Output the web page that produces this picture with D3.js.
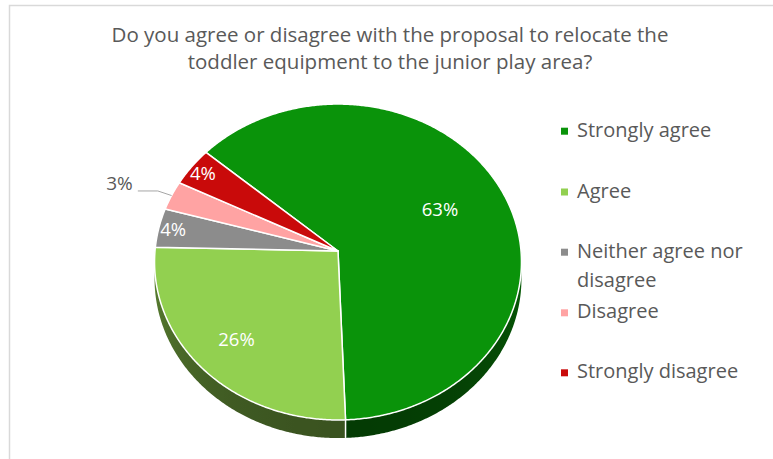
<!DOCTYPE html>
<html>
<head>
<meta charset="utf-8">
<script src="https://cdn.jsdelivr.net/npm/d3@7"></script>
<style>
  html, body { margin: 0; background: #fff; }
  svg { display: block; }
</style>
</head>
<body>
<svg id="chart" width="773" height="459"></svg>
<script>
// Survey answers and their shares (percent)
const categories = ["Strongly agree", "Agree", "Neither agree nor disagree", "Disagree", "Strongly disagree"];
const shares = [63, 26, 4, 3, 4];
const legendLines = [["Strongly agree"], ["Agree"], ["Neither agree nor", "disagree"], ["Disagree"], ["Strongly disagree"]];
const titleLines = ["Do you agree or disagree with the proposal to relocate the", "toddler equipment to the junior play area?"];
const sliceColors = ["#0a930a", "#92d050", "#8c8c8c", "#ffa3a3", "#c90a0a"];
const outsideLabelled = ["Disagree"];

const svg = d3.select("#chart");
const font = "'Open Sans', 'Noto Sans', sans-serif";
const textGrey = "#595959";
const color = d3.scaleOrdinal(categories, sliceColors);
const defs = svg.append("defs");

// chart frame
svg.append("rect")
  .attr("x", 9.5).attr("y", 5.5).attr("width", 800).attr("height", 480)
  .attr("fill", "none").attr("stroke", "#d9d9d9").attr("stroke-width", 1.5);

// title
svg.append("text")
  .attr("text-anchor", "middle")
  .attr("font-family", font).attr("font-size", 20.5).attr("fill", textGrey)
  .selectAll("tspan").data(titleLines).join("tspan")
  .attr("x", 390).attr("y", (d, i) => 41.5 + i * 27)
  .text(d => d);

// tilted pie projected with a little perspective
const cx = 338, cy = 251, R = 183;
const sinT = 0.859, cosT = 0.512, camD = 1342, depth = 16.8;
function project(theta, f) {
  const u = f * Math.sin(theta), v = f * Math.cos(theta);
  const k = camD / (camD + v * R * cosT);
  return [cx + u * R * k, cy - v * R * sinT * k, k];
}
function dropped(theta) {
  const p = project(theta, 1);
  return [p[0], p[1] + depth * p[2]];
}

const start = -49 * Math.PI / 180;
const pie = d3.pie().sort(null).value(d => d.value)
  .startAngle(start).endAngle(start + 2 * Math.PI);
const arcs = pie(categories.map((c, i) => ({ name: c, value: shares[i] })));

const step = Math.PI / 360;
function samples(a0, a1) {
  const n = Math.max(2, Math.ceil((a1 - a0) / step));
  return d3.range(n + 1).map(i => a0 + (a1 - a0) * i / n);
}
const line = d3.line();

// side wall, one path per slice, shaded darker toward the front
const visLo = Math.PI / 2 - 0.1, visHi = 3 * Math.PI / 2 + 0.1;
const walls = svg.append("g");
arcs.forEach((a, i) => {
  const lo = Math.max(a.startAngle, visLo), hi = Math.min(a.endAngle, visHi);
  if (hi <= lo) return;
  const ts = samples(lo, hi);
  const xs = ts.map(t => project(t, 1)[0]);
  const x0 = d3.min(xs), x1 = d3.max(xs);
  const grad = defs.append("linearGradient")
    .attr("id", "wall" + i).attr("gradientUnits", "userSpaceOnUse")
    .attr("x1", x0).attr("x2", x1 === x0 ? x0 + 1 : x1).attr("y1", 0).attr("y2", 0);
  const stops = ts.filter((t, j) => j % 6 === 0 || j === ts.length - 1)
    .map(t => {
      const front = Math.max(0, -Math.cos(t));
      return {
        off: (project(t, 1)[0] - x0) / Math.max(1, x1 - x0),
        col: d3.interpolateRgb(color(a.data.name), "#000")(0.37 + 0.23 * front)
      };
    })
    .sort((p, q) => p.off - q.off);
  grad.selectAll("stop").data(stops).join("stop")
    .attr("offset", d => Math.min(1, Math.max(0, d.off)))
    .attr("stop-color", d => d.col);
  const top = ts.map(t => project(t, 1).slice(0, 2));
  const bottom = ts.slice().reverse().map(dropped);
  walls.append("path")
    .attr("d", line([...top, ...bottom]) + "Z")
    .attr("fill", `url(#wall${i})`);
});
// slice seams on the wall
arcs.forEach(a => {
  const t = a.startAngle;
  if (t > Math.PI / 2 && t < 3 * Math.PI / 2) {
    const p = project(t, 1);
    svg.append("path").attr("d", line([[p[0], p[1]], dropped(t)]))
      .attr("stroke", "#fff").attr("stroke-width", 1.5).attr("fill", "none");
  }
});

// top faces
svg.append("g").selectAll("path").data(arcs).join("path")
  .attr("d", a => {
    const pts = samples(a.startAngle, a.endAngle).map(t => project(t, 1).slice(0, 2));
    return line([[cx, cy], ...pts]) + "Z";
  })
  .attr("fill", a => color(a.data.name))
  .attr("stroke", "#fff").attr("stroke-width", 1.5).attr("stroke-linejoin", "round");

// data labels
const mid = a => (a.startAngle + a.endAngle) / 2;
const labelFrac = a => a.data.value >= 50 ? 0.63 : a.data.value >= 10 ? 0.76 : 0.92;
svg.append("g").selectAll("text")
  .data(arcs.filter(a => !outsideLabelled.includes(a.data.name))).join("text")
  .attr("x", a => project(mid(a), labelFrac(a))[0])
  .attr("y", a => project(mid(a), labelFrac(a))[1])
  .attr("dy", "0.36em").attr("text-anchor", "middle")
  .attr("font-family", font).attr("font-size", 18.5).attr("fill", "#fff")
  .text(a => a.data.value + "%");

// outside label with a leader line
arcs.filter(a => outsideLabelled.includes(a.data.name)).forEach(a => {
  const m = mid(a);
  const p = project(m, 1), e = project(m, 1.085);
  const ex = e[0], ey = e[1];
  svg.append("path")
    .attr("d", line([[p[0], p[1]], [ex, ey], [ex - 20, ey]]))
    .attr("fill", "none").attr("stroke", "#a6a6a6").attr("stroke-width", 1);
  svg.append("text")
    .attr("x", ex - 25).attr("y", ey - 0.5)
    .attr("text-anchor", "end")
    .attr("font-family", font).attr("font-size", 19).attr("fill", textGrey)
    .text(a.data.value + "%");
});

// legend
const legendY = [136.7, 197.5, 257.7, 318.3, 378.3];
const legend = svg.append("g");
categories.forEach((c, i) => {
  const y = legendY[i];
  legend.append("rect")
    .attr("x", 561).attr("y", y - 9).attr("width", 7).attr("height", 7)
    .attr("fill", color(c));
  legend.append("text")
    .attr("font-family", font).attr("font-size", 20).attr("fill", textGrey)
    .selectAll("tspan").data(legendLines[i]).join("tspan")
    .attr("x", 577).attr("y", (d, j) => y + j * 29)
    .text(d => d);
});
</script>
</body>
</html>
